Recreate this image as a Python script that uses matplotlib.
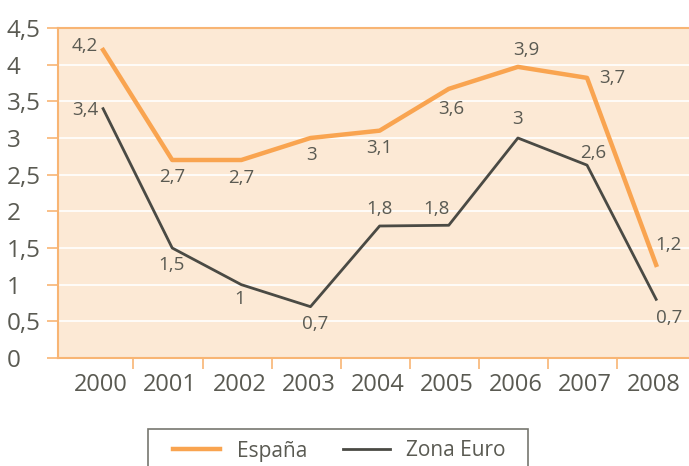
import matplotlib
matplotlib.use("Agg")
import matplotlib.pyplot as plt
from matplotlib.patches import Rectangle

plt.rcParams["font.family"] = ["Open Sans", "DejaVu Sans"]

# Datos
anios = ["2000", "2001", "2002", "2003", "2004", "2005", "2006", "2007", "2008"]
espana = [4.2, 2.7, 2.7, 3.0, 3.1, 3.67, 3.97, 3.82, 1.27]
zona_euro = [3.4, 1.5, 1.0, 0.7, 1.8, 1.81, 3.0, 2.63, 0.8]
etiquetas_espana = ["4,2", "2,7", "2,7", "3", "3,1", "3,6", "3,9", "3,7", "1,2"]
etiquetas_euro = ["3,4", "1,5", "1", "0,7", "1,8", "1,8", "3", "2,6", "0,7"]
yticks = [0, 0.5, 1, 1.5, 2, 2.5, 3, 3.5, 4, 4.5]
ytick_labels = ["0", "0,5", "1", "1,5", "2", "2,5", "3", "3,5", "4", "4,5"]

naranja = "#F9A450"
gris = "#4A4A44"
texto = "#5A5A52"
eje = "#F8B574"
fondo = "#FCE9D5"

fig = plt.figure(figsize=(6.89, 4.66), dpi=100)
ax = fig.add_axes([58 / 689, 108 / 466, 631 / 689, 330 / 466])
ax.set_facecolor(fondo)

x = list(range(len(anios)))
ax.plot(x, espana, color=naranja, lw=3.2, label="España", zorder=3)
ax.plot(x, zona_euro, color=gris, lw=2.0, label="Zona Euro", zorder=3)

ax.set_xlim(-0.652, 8.475)
ax.set_ylim(0, 4.5)

# rejilla horizontal blanca
for v in yticks[1:]:
    ax.axhline(v, color="white", lw=1.2, zorder=0.5)

ax.set_yticks(yticks)
ax.set_yticklabels(ytick_labels, ha="left")
ax.tick_params(axis="y", direction="out", length=8, width=1.2, color=eje,
               labelsize=17.5, labelcolor=texto, pad=28.8)

# marcas entre categorías, etiquetas de año en el centro
ax.set_xticks([i + 0.44 for i in range(len(anios) - 1)])
ax.set_xticklabels([])
ax.set_xticks([i - 0.03 for i in x], minor=True)
ax.set_xticklabels(anios, minor=True)
ax.tick_params(axis="x", which="major", direction="out", length=8, width=1.2, color=eje)
ax.tick_params(axis="x", which="minor", length=0, labelsize=17, labelcolor=texto, pad=11)

for s in ["top", "bottom", "left"]:
    ax.spines[s].set_color(eje)
    ax.spines[s].set_linewidth(1.5)
ax.spines["right"].set_visible(False)

# etiquetas de datos: desplazamiento (px) del centro de la cifra respecto al punto
fs_lab = 13.5
media_cifra = 0.714 * fs_lab / 0.72 / 2
off_esp = [(-18, 6), (0, -15), (0, -16), (1, -15), (0, -16), (2, -18), (8, 19), (25, 2), (12, 22)]
off_eur = [(-18, 0), (-1, -15), (-2, -13), (5, -16), (0, 19), (-12, 18), (0, 21), (6, 14), (13, -17)]
for serie, etiquetas, offs in [(espana, etiquetas_espana, off_esp), (zona_euro, etiquetas_euro, off_eur)]:
    for i in x:
        dx, dy = offs[i]
        ax.annotate(etiquetas[i], (i, serie[i]), xytext=(dx * 0.72, (dy - media_cifra) * 0.72),
                    textcoords="offset points", ha="center", va="baseline",
                    fontsize=fs_lab, color=texto, zorder=4)

leg = fig.legend(loc="center left", bbox_to_anchor=(173 / 689, 1 - 451 / 466),
                 ncol=2, fontsize=15, frameon=False, handlelength=2.26, handletextpad=0.8,
                 columnspacing=1.7, borderpad=0, borderaxespad=0)
for t in leg.get_texts():
    t.set_color(texto)
fig.add_artist(Rectangle((148 / 689, -0.05), 380 / 689, (466 - 429) / 466 + 0.05,
                         transform=fig.transFigure, fill=False, edgecolor="#77776F", lw=1.2))

fig.savefig("out.png", dpi=100)
